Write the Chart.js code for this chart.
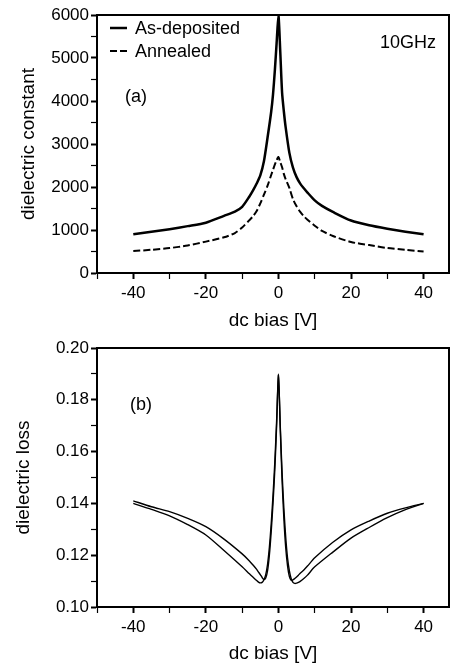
<!DOCTYPE html>
<html>
<head>
<meta charset="utf-8">
<script src="https://cdn.jsdelivr.net/npm/chart.js@4.4.0/dist/chart.umd.min.js"></script>
<style>
  body { margin: 0; background: #fff; }
  #wrap { position: relative; width: 450px; height: 663px; }
  #wrap canvas { position: absolute; left: 0; }
</style>
</head>
<body>
<div id="wrap">
  <canvas id="chartA" width="450" height="330" style="top:0"></canvas>
  <canvas id="chartB" width="450" height="333" style="top:330px"></canvas>
</div>
<script>
// panel (a): dielectric constant vs dc bias
const biasA = [-40, -35, -30, -25, -20, -15, -12, -10, -8, -7, -6, -5, -4, -3, -2, -1.5, -1, -0.5, 0,
  0.5, 1, 1.5, 2, 3, 4, 5, 6, 7, 8, 10, 12, 15, 20, 25, 30, 35, 40];
const asDeposited = [900, 960, 1020, 1090, 1170, 1330, 1430, 1540, 1780, 1920, 2080, 2270, 2600, 3150, 3750, 4150, 4700, 5350, 6000,
  5150, 4200, 3750, 3380, 2800, 2450, 2230, 2080, 1970, 1870, 1690, 1560, 1420, 1220, 1110, 1030, 960, 900];
const annealed = [510, 540, 580, 640, 730, 830, 930, 1060, 1230, 1320, 1440, 1620, 1820, 2030, 2280, 2400, 2520, 2620, 2700,
  2580, 2460, 2300, 2180, 1980, 1720, 1550, 1420, 1320, 1240, 1100, 980, 860, 720, 650, 580, 540, 500];

// panel (b): dielectric loss vs dc bias, two sweeps
const biasB = [-40, -35, -30, -25, -20, -15, -10, -8, -7, -6, -5.5, -5, -4.5, -4, -3.5, -3, -2.5, -2, -1.5, -1, -0.5, 0,
  0.5, 1, 1.5, 2, 2.5, 3, 3.5, 4, 4.5, 5, 5.5, 6, 7, 8, 10, 15, 20, 25, 30, 35, 40];
const lossSweep1 = [0.1400, 0.1377, 0.1352, 0.1318, 0.1278, 0.1218, 0.1155, 0.1128, 0.1115, 0.1102, 0.1096, 0.1093, 0.1095, 0.1105, 0.1125, 0.1165, 0.1230, 0.1320, 0.1430, 0.1560, 0.1720, 0.1895,
  0.1690, 0.1490, 0.1340, 0.1230, 0.1160, 0.1118, 0.1103, 0.1105, 0.1110, 0.1116, 0.1123, 0.1130, 0.1143, 0.1158, 0.1190, 0.1250, 0.1298, 0.1332, 0.1362, 0.1383, 0.1400];
const lossSweep2 = [0.1410, 0.1387, 0.1368, 0.1342, 0.1310, 0.1262, 0.1205, 0.1178, 0.1162, 0.1145, 0.1135, 0.1125, 0.1114, 0.1106, 0.1112, 0.1140, 0.1200, 0.1290, 0.1400, 0.1530, 0.1700, 0.1900,
  0.1700, 0.1520, 0.1380, 0.1270, 0.1190, 0.1140, 0.1110, 0.1095, 0.1091, 0.1092, 0.1095, 0.1099, 0.1110, 0.1123, 0.1155, 0.1212, 0.1266, 0.1307, 0.1345, 0.1376, 0.1400];

// ticks
const xTicks = [-50, -40, -30, -20, -10, 0, 10, 20, 30, 40];
const xLabels = [-40, -20, 0, 20, 40];
const yTicksA = [0, 500, 1000, 1500, 2000, 2500, 3000, 3500, 4000, 4500, 5000, 5500, 6000];
const yLabelsA = [0, 1000, 2000, 3000, 4000, 5000, 6000];
const yTicksB = [0.10, 0.11, 0.12, 0.13, 0.14, 0.15, 0.16, 0.17, 0.18, 0.19, 0.20];
const yLabelsB = ['0.10', '0.12', '0.14', '0.16', '0.18', '0.20'];

const FONT = 'Liberation Sans, Arial, sans-serif';
const tickFont = { family: FONT, size: 17 };
const titleFont = { family: FONT, size: 19, lineHeight: 1 };

const pts = (xs, ys) => xs.map((x, i) => ({ x: x, y: ys[i] }));

// frame + in-plot texts
const decor = {
  id: 'decor',
  afterDraw(chart, args, opts) {
    const { ctx, chartArea: a } = chart;
    ctx.save();
    ctx.strokeStyle = '#000';
    ctx.lineWidth = 2;
    ctx.strokeRect(a.left, a.top, a.right - a.left, a.bottom - a.top);
    ctx.fillStyle = '#000';
    ctx.textBaseline = 'middle';
    ctx.textAlign = 'left';
    ctx.font = '18px ' + FONT;
    (opts.texts || []).forEach(t => ctx.fillText(t.text, t.x, t.y));
    (opts.legend || []).forEach((l, i) => {
      const ds = chart.data.datasets[i];
      ctx.beginPath();
      ctx.lineWidth = ds.borderWidth;
      ctx.setLineDash(ds.borderDash || []);
      ctx.moveTo(l.x, l.y);
      ctx.lineTo(l.x + 17, l.y);
      ctx.stroke();
      ctx.setLineDash([]);
      ctx.fillText(ds.label, l.x + 25, l.y + 1);
    });
    ctx.restore();
  }
};

function xScale(h, titlePad) {
  return {
    type: 'linear', min: -50, max: 47,
    afterFit: s => { s.height = h; },
    afterBuildTicks: s => { s.ticks = xTicks.map(v => ({ value: v })); },
    ticks: {
      autoSkip: false, maxRotation: 0, padding: 4, color: '#000', font: tickFont,
      callback: v => xLabels.includes(v) ? String(v) : ''
    },
    grid: { drawOnChartArea: false, tickLength: 6, tickColor: '#000',
      tickWidth: c => xLabels.includes(c.tick.value) ? 2 : 1.2 },
    border: { color: '#000', width: 2 },
    title: { display: true, text: 'dc bias [V]', color: '#000', font: titleFont, padding: { top: titlePad, bottom: 0 } }
  };
}

function yScale(min, max, ticks, isMajor, fmt, title, titlePad) {
  return {
    type: 'linear', min: min, max: max,
    afterFit: s => { s.width = 97; },
    afterBuildTicks: s => { s.ticks = ticks.map(v => ({ value: v })); },
    ticks: {
      autoSkip: false, padding: 2, color: '#000', font: tickFont,
      callback: v => isMajor(v) ? fmt(v) : ''
    },
    grid: { drawOnChartArea: false, tickLength: 6, tickColor: '#000',
      tickWidth: c => isMajor(c.tick.value) ? 2 : 1.2 },
    border: { color: '#000', width: 2 },
    title: { display: true, text: title, color: '#000', font: titleFont, padding: { top: titlePad, bottom: 0 } }
  };
}

new Chart(document.getElementById('chartA'), {
  type: 'line',
  data: {
    datasets: [
      { label: 'As-deposited', data: pts(biasA, asDeposited), borderColor: '#000', borderWidth: 2.5, pointRadius: 0, tension: 0.25 },
      { label: 'Annealed', data: pts(biasA, annealed), borderColor: '#000', borderWidth: 2, borderDash: [7, 3], pointRadius: 0, tension: 0.25 }
    ]
  },
  options: {
    responsive: false, animation: false, devicePixelRatio: 1,
    layout: { padding: { top: 15, right: 1, left: 0, bottom: 0 } },
    scales: {
      x: xScale(57, 0),
      y: yScale(0, 6000, yTicksA, v => yLabelsA.includes(v), v => String(v), 'dielectric constant', 19)
    },
    plugins: {
      legend: { display: false }, tooltip: { enabled: false },
      decor: {
        texts: [{ text: '10GHz', x: 380, y: 43 }, { text: '(a)', x: 125, y: 97 }],
        legend: [{ x: 110, y: 28 }, { x: 110, y: 51 }]
      }
    }
  },
  plugins: [decor]
});

new Chart(document.getElementById('chartB'), {
  type: 'line',
  data: {
    datasets: [
      { label: 'sweep 1', data: pts(biasB, lossSweep1), borderColor: '#000', borderWidth: 1.4, pointRadius: 0, tension: 0.25 },
      { label: 'sweep 2', data: pts(biasB, lossSweep2), borderColor: '#000', borderWidth: 1.4, pointRadius: 0, tension: 0.25 }
    ]
  },
  options: {
    responsive: false, animation: false, devicePixelRatio: 1,
    layout: { padding: { top: 18, right: 1, left: 0, bottom: 0 } },
    scales: {
      x: xScale(56, 1.5),
      y: yScale(0.10, 0.20, yTicksB, v => yLabelsB.includes(v.toFixed(2)), v => v.toFixed(2), 'dielectric loss', 14.5)
    },
    plugins: {
      legend: { display: false }, tooltip: { enabled: false },
      decor: { texts: [{ text: '(b)', x: 130, y: 75 }] }
    }
  },
  plugins: [decor]
});
</script>
</body>
</html>
